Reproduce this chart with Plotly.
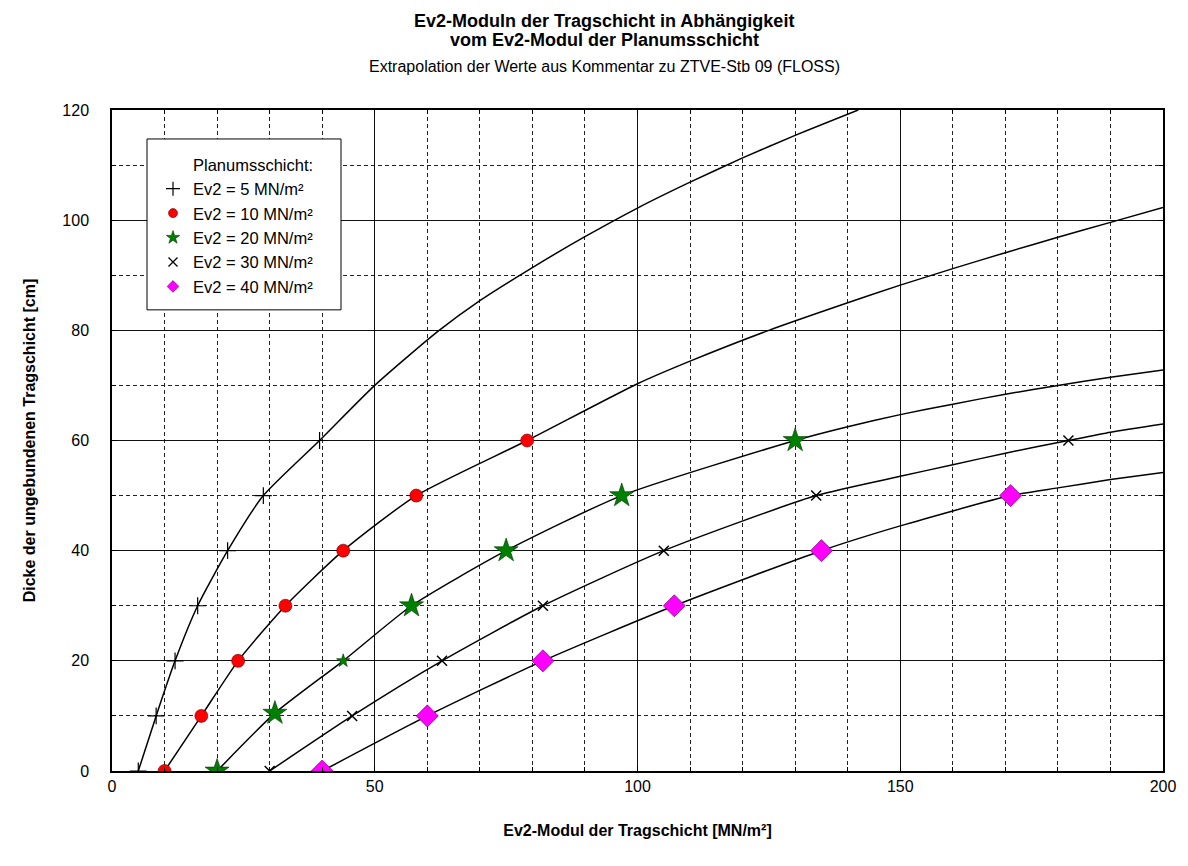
import plotly.graph_objects as go

# ---------------- data ----------------
# measured points (Ev2 Tragschicht in MN/m² vs. thickness in cm)
pts5_x = [5, 8.4, 12, 16.3, 22, 28.8, 39.5]
pts5_y = [0, 10, 20, 30, 40, 50, 60]
pts10_x = [10, 17, 24, 33, 44, 57.9, 79]
pts10_y = [0, 10, 20, 30, 40, 50, 60]
pts20_x = [20, 31, 44, 57, 75, 97, 130]
pts20_y = [0, 10.5, 20, 30, 40, 50, 60]
pts30_x = [30, 45.7, 62.8, 82, 105, 134, 182]
pts30_y = [0, 10, 20, 30, 40, 50, 60]
pts40_x = [40, 60, 82, 107, 135, 171]
pts40_y = [0, 10, 20, 30, 40, 50]

# extrapolated curves
crv5_x = [5, 8.4, 12, 16.3, 22, 28.8, 39.5, 50, 62, 70, 80, 90, 100, 110, 120, 130, 142]
crv5_y = [0, 10, 20, 30, 40, 50, 60, 70.0, 79.8, 85.4, 91.4, 97.0, 102.2, 106.9, 111.3, 115.4, 120]
crv10_x = [10, 17, 24, 33, 44, 57.9, 79, 100, 110, 125, 140, 150, 160, 170, 180, 190, 200]
crv10_y = [0, 10, 20, 30, 40, 50, 60, 70.3, 74.4, 80.0, 85.0, 88.2, 91.2, 94.1, 96.9, 99.6, 102.3]
crv20_x = [20, 31, 44, 57, 75, 97, 130, 140, 150, 160, 170, 180, 190, 200]
crv20_y = [0, 10.5, 20, 30, 40, 50, 60, 62.5, 64.7, 66.6, 68.4, 70.0, 71.5, 72.8]
crv30_x = [30, 45.7, 62.8, 82, 105, 134, 150, 160, 170, 182, 190, 200]
crv30_y = [0, 10, 20, 30, 40, 50, 53.5, 55.6, 57.7, 60, 61.5, 63.0]
crv40_x = [40, 60, 82, 107, 135, 150, 171, 180, 190, 200]
crv40_y = [0, 10, 20, 30, 40, 44.5, 50, 51.4, 52.9, 54.2]

series_names = ["Ev2 = 5 MN/m²", "Ev2 = 10 MN/m²", "Ev2 = 20 MN/m²",
                "Ev2 = 30 MN/m²", "Ev2 = 40 MN/m²"]
legend_title = "Planumsschicht:"

x_ticks = [0, 50, 100, 150, 200]
y_ticks = [0, 20, 40, 60, 80, 100, 120]

# ---------------- figure ----------------
FONT = "Liberation Sans, Arial, sans-serif"
W, H = 1172, 850          # page body has an 8px margin
OFF = 8                   # screenshot offset of the figure
L, T = 112 - OFF, 110 - OFF
R = W - (1163 - OFF)
B = H - (771.5 - OFF)
PW, PH = W - L - R, H - T - B


def xpaper(sx):           # screenshot x -> paper
    return (sx - OFF - L) / PW


def ypaper(sy):           # screenshot y -> paper
    return (H - B - (sy - OFF)) / PH


fig = go.Figure()

curves = [(crv5_x, crv5_y), (crv10_x, crv10_y), (crv20_x, crv20_y),
          (crv30_x, crv30_y), (crv40_x, crv40_y)]
for cx, cy in curves:
    fig.add_trace(go.Scatter(x=cx, y=cy, mode="lines",
                             line=dict(color="black", width=1.5, shape="spline", smoothing=0.6),
                             showlegend=False, hoverinfo="skip"))

styles = [
    dict(symbol="cross-thin", size=12, color="black", line=dict(color="black", width=1.2)),
    dict(symbol="circle", size=13, color="#FF0000", line=dict(color="#600000", width=0.6)),
    dict(symbol="star", size=[18, 18, 10, 18, 18, 18, 18], color="#008000",
         line=dict(color="#003000", width=0.6)),
    dict(symbol="x-thin", size=10, color="black", line=dict(color="black", width=1.5)),
    dict(symbol="diamond", size=17, color="#FF00FF", line=dict(color="#600060", width=0.6)),
]
legend_styles = [
    dict(symbol="cross-thin", size=10, color="black", line=dict(color="black", width=1.2)),
    dict(symbol="circle", size=9, color="#FF0000", line=dict(color="#600000", width=0.6)),
    dict(symbol="star", size=10, color="#008000", line=dict(color="#003000", width=0.6)),
    dict(symbol="x-thin", size=9, color="black", line=dict(color="black", width=1.3)),
    dict(symbol="diamond", size=9, color="#FF00FF", line=dict(color="#600060", width=0.6)),
]
points = [(pts5_x, pts5_y), (pts10_x, pts10_y), (pts20_x, pts20_y),
          (pts30_x, pts30_y), (pts40_x, pts40_y)]
for (px, py), st, nm in zip(points, styles, series_names):
    fig.add_trace(go.Scatter(x=px, y=py, mode="markers", marker=dict(opacity=1, **st),
                             name=nm, showlegend=False))

# legend entries
fig.add_trace(go.Scatter(x=[None], y=[None], mode="markers",
                         marker=dict(size=1, color="rgba(0,0,0,0)",
                                     line=dict(width=0)),
                         name=legend_title, legendgroup="g0"))
for i, (st, nm) in enumerate(zip(legend_styles, series_names)):
    fig.add_trace(go.Scatter(x=[None], y=[None], mode="markers", marker=dict(opacity=1, **st),
                             name=nm, legendgroup=f"g{i+1}"))

# legend frame (drawn as a shape so the padding matches)
fig.add_shape(type="rect", xref="paper", yref="paper",
              x0=xpaper(147), x1=xpaper(341), y0=ypaper(310), y1=ypaper(139),
              line=dict(color="black", width=1), fillcolor="white", layer="above")

ann = [
    dict(text="<b>Ev2-Moduln der Tragschicht in Abhängigkeit</b>", y=ypaper(21), size=18),
    dict(text="<b>vom Ev2-Modul der Planumsschicht</b>", y=ypaper(40), size=18),
    dict(text="Extrapolation der Werte aus Kommentar zu ZTVE-Stb 09 (FLOSS)", y=ypaper(66), size=16),
]
for a in ann:
    fig.add_annotation(text=a["text"], x=xpaper(604), xref="paper", y=a["y"], yref="paper",
                       showarrow=False, xanchor="center", yanchor="middle",
                       font=dict(family=FONT, size=a["size"], color="black"))

grid_major = dict(showgrid=True, gridcolor="#111111", gridwidth=1)
minor = dict(dtick=10, showgrid=True, gridcolor="#222222", griddash="4px,3px",
             gridwidth=1, ticks="inside", ticklen=4, tickcolor="black")
fig.update_xaxes(range=[0, 200], tickvals=x_ticks, ticks="inside", ticklen=5,
                 tickcolor="black", showline=True, linecolor="black", linewidth=1.5,
                 mirror="ticks", zeroline=False, **grid_major, minor=minor,
                 tickfont=dict(family=FONT, size=16, color="black"),
                 ticklabelstandoff=0,
                 title=dict(text="<b>Ev2-Modul der Tragschicht [MN/m²]</b>",
                            font=dict(family=FONT, size=16, color="black"), standoff=31))
fig.update_yaxes(range=[0, 120], tickvals=y_ticks, ticks="inside", ticklen=5,
                 tickcolor="black", showline=True, linecolor="black", linewidth=1.5,
                 mirror="ticks", zeroline=False, **grid_major, minor=minor,
                 tickfont=dict(family=FONT, size=16, color="black"),
                 ticklabelstandoff=18,
                 title=dict(text="<b>Dicke der ungebundenen Tragschicht [cm]</b>",
                            font=dict(family=FONT, size=16, color="black"), standoff=23))

fig.update_layout(
    width=W, height=H,
    margin=dict(l=L, r=R, t=T, b=B, autoexpand=False),
    paper_bgcolor="white", plot_bgcolor="white",
    font=dict(family=FONT, color="black"),
    legend=dict(x=xpaper(153), y=ypaper(147), xanchor="left", yanchor="top",
                bgcolor="rgba(0,0,0,0)", borderwidth=0,
                font=dict(family=FONT, size=16.5, color="black"),
                tracegroupgap=0, itemsizing="trace"),
    showlegend=True,
)

fig.write_html("out.html")
